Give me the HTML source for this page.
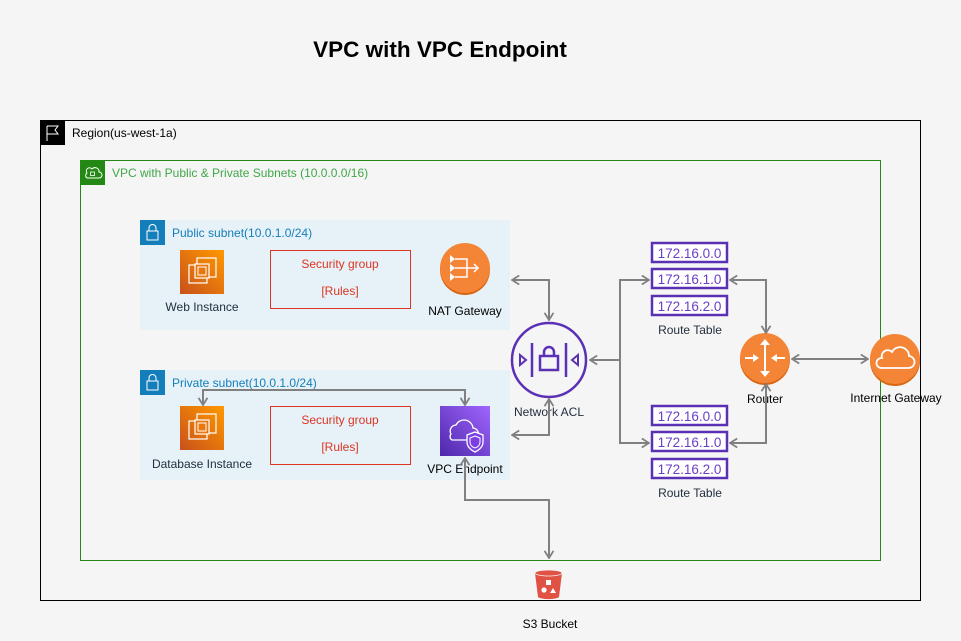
<!DOCTYPE html>
<html><head><meta charset="utf-8"><style>
html,body{margin:0;padding:0;background:#f5f5f5;}
svg{display:block;font-family:"Liberation Sans",Arial,sans-serif;}
</style></head><body>
<svg width="961" height="641" viewBox="0 0 961 641" xmlns="http://www.w3.org/2000/svg">
<defs>
<linearGradient id="org" x1="0" y1="1" x2="1" y2="0"><stop offset="0" stop-color="#c8511b"/><stop offset="1" stop-color="#ff9900"/></linearGradient>
<linearGradient id="pur" x1="0" y1="1" x2="1" y2="0"><stop offset="0" stop-color="#4d27aa"/><stop offset="1" stop-color="#a166ff"/></linearGradient>
<marker id="a" viewBox="0 0 10 12" refX="9" refY="6" markerWidth="9" markerHeight="11" orient="auto-start-reverse" markerUnits="userSpaceOnUse"><path d="M1,1 L9,6 L1,11" fill="none" stroke="#808080" stroke-width="2"/></marker>
</defs>
<rect width="961" height="641" fill="#f5f5f5"/>
<text x="440" y="57" font-size="22.5" font-weight="bold" text-anchor="middle" fill="#000">VPC with VPC Endpoint</text>

<!-- Region -->
<rect x="40.5" y="120.5" width="880" height="480" fill="none" stroke="#000" stroke-width="1"/>
<rect x="40" y="120" width="25" height="25" fill="#000"/>
<path d="M47 141 V126 M47 126 H58 L55 130 L58 134 H47" fill="none" stroke="#fff" stroke-width="1"/>
<text x="72" y="137" font-size="12" fill="#000">Region(us-west-1a)</text>

<!-- VPC -->
<rect x="80.5" y="160.5" width="800" height="400" fill="none" stroke="#248814" stroke-width="1"/>
<rect x="80" y="160" width="25" height="25" fill="#248814"/>
<path d="M87 178 h12 a3 3 0 0 0 0-6 a4 4 0 0 0-7-3 a3 3 0 0 0-5 4 a3 3 0 0 0 0 5z" fill="none" stroke="#fff" stroke-width="1"/>
<rect x="90.5" y="172" width="4" height="3.5" fill="none" stroke="#fff" stroke-width="0.8"/>
<text x="112" y="177" font-size="12" fill="#3fa848">VPC with Public &amp; Private Subnets (10.0.0.0/16)</text>

<!-- Public subnet -->
<rect x="140" y="220" width="370" height="110" fill="#e6f2f8"/>
<rect x="140" y="220" width="25" height="25" fill="#147eba"/>
<rect x="147" y="231" width="11" height="9" fill="none" stroke="#fff" stroke-width="1"/>
<path d="M149 231 v-3 a3.5 3.5 0 0 1 7 0 v3" fill="none" stroke="#fff" stroke-width="1"/>
<text x="172" y="237" font-size="12" fill="#147eba">Public subnet(10.0.1.0/24)</text>

<!-- Private subnet -->
<rect x="140" y="370" width="370" height="110" fill="#e6f2f8"/>
<rect x="140" y="370" width="25" height="25" fill="#147eba"/>
<rect x="147" y="381" width="11" height="9" fill="none" stroke="#fff" stroke-width="1"/>
<path d="M149 381 v-3 a3.5 3.5 0 0 1 7 0 v3" fill="none" stroke="#fff" stroke-width="1"/>
<text x="172" y="387" font-size="12" fill="#147eba">Private subnet(10.0.1.0/24)</text>

<!-- EC2 web -->
<g transform="translate(180,250)">
<rect width="44" height="44" fill="url(#org)"/>
<rect x="9" y="15" width="18" height="18" fill="none" stroke="#fff" stroke-width="1.2"/>
<rect x="17" y="8" width="19" height="19" fill="none" stroke="#fff" stroke-width="1.2"/>
<rect x="15" y="14" width="14" height="14" fill="#e8770f" stroke="#fff" stroke-width="1.2"/>
<rect x="18" y="17" width="8" height="8" fill="none" stroke="#fff" stroke-width="1"/>
</g>
<text x="202" y="311" font-size="12" fill="#232f3e" text-anchor="middle">Web Instance</text>
<!-- EC2 db -->
<g transform="translate(180,406)">
<rect width="44" height="44" fill="url(#org)"/>
<rect x="9" y="15" width="18" height="18" fill="none" stroke="#fff" stroke-width="1.2"/>
<rect x="17" y="8" width="19" height="19" fill="none" stroke="#fff" stroke-width="1.2"/>
<rect x="15" y="14" width="14" height="14" fill="#e8770f" stroke="#fff" stroke-width="1.2"/>
<rect x="18" y="17" width="8" height="8" fill="none" stroke="#fff" stroke-width="1"/>
</g>
<text x="202" y="468" font-size="12" fill="#232f3e" text-anchor="middle">Database Instance</text>

<!-- Security groups -->
<rect x="270.5" y="250.5" width="140" height="58" fill="none" stroke="#dd3522"/>
<text x="340" y="268" font-size="12" fill="#dd3522" text-anchor="middle">Security group</text>
<text x="340" y="295" font-size="12" fill="#dd3522" text-anchor="middle">[Rules]</text>
<rect x="270.5" y="406.5" width="140" height="58" fill="none" stroke="#dd3522"/>
<text x="340" y="424" font-size="12" fill="#dd3522" text-anchor="middle">Security group</text>
<text x="340" y="451" font-size="12" fill="#dd3522" text-anchor="middle">[Rules]</text>

<!-- NAT -->
<circle cx="465" cy="270" r="25" fill="#d86613"/>
<circle cx="465" cy="268" r="25" fill="#f58536"/>
<g stroke="#fff" stroke-width="1.5" fill="none">
<path d="M455 259 h12 v18 h-12 M455 268 h22"/>
<path d="M474 264 l4 4 l-4 4"/>
</g>
<path d="M450 255 l5 4 l-5 4z M450 264 l5 4 l-5 4z M450 273 l5 4 l-5 4z" fill="#fff"/>
<text x="465" y="315" font-size="12" fill="#000" text-anchor="middle">NAT Gateway</text>

<!-- VPC endpoint -->
<rect x="440" y="406" width="50" height="50" fill="url(#pur)"/>
<path d="M452 440 h20 a6 6 0 0 0 1-12 a9 9 0 0 0-17-3 a6 6 0 0 0-5 9 a4 4 0 0 0 1 6z" fill="none" stroke="#fff" stroke-width="1.3"/>
<path d="M475 432 l8 3 v7 c0 5-4 8-8 10 c-4-2-8-5-8-10 v-7z" fill="#7b3fe4" stroke="#fff" stroke-width="1.3"/>
<path d="M475 436 l5 2 v4 c0 3-2 5-5 6 c-3-1-5-3-5-6 v-4z" fill="none" stroke="#fff" stroke-width="1"/>
<text x="465" y="473" font-size="12" fill="#000" text-anchor="middle">VPC Endpoint</text>

<!-- Network ACL -->
<circle cx="549" cy="360" r="37" fill="none" stroke="#5a30b5" stroke-width="2.5"/>
<g stroke="#5a30b5" stroke-width="2.5" fill="none">
<path d="M532 343 v34 M566 343 v34"/>
<rect x="540" y="356" width="18" height="14"/>
<path d="M544 356 v-4 a5 5 0 0 1 10 0 v4"/>
<path d="M520 355 l6 5 l-6 5z M578 355 l-6 5 l6 5z" stroke-width="2"/>
</g>
<text x="549" y="416" font-size="12" fill="#232f3e" text-anchor="middle">Network ACL</text>

<!-- Route tables -->
<g font-size="13.5" fill="#6a3fc8" text-anchor="middle">
<rect x="652" y="243" width="75" height="19" fill="#fff" stroke="#5a30b5" stroke-width="2.5"/><text x="689.5" y="258">172.16.0.0</text>
<rect x="652" y="269" width="75" height="19" fill="#fff" stroke="#5a30b5" stroke-width="2.5"/><text x="689.5" y="284">172.16.1.0</text>
<rect x="652" y="296" width="75" height="19" fill="#fff" stroke="#5a30b5" stroke-width="2.5"/><text x="689.5" y="311">172.16.2.0</text>
<rect x="652" y="406" width="75" height="19" fill="#fff" stroke="#5a30b5" stroke-width="2.5"/><text x="689.5" y="421">172.16.0.0</text>
<rect x="652" y="432" width="75" height="19" fill="#fff" stroke="#5a30b5" stroke-width="2.5"/><text x="689.5" y="447">172.16.1.0</text>
<rect x="652" y="459" width="75" height="19" fill="#fff" stroke="#5a30b5" stroke-width="2.5"/><text x="689.5" y="474">172.16.2.0</text>
</g>
<text x="690" y="334" font-size="12" fill="#232f3e" text-anchor="middle">Route Table</text>
<text x="690" y="497" font-size="12" fill="#232f3e" text-anchor="middle">Route Table</text>

<!-- Router -->
<circle cx="765" cy="360" r="25" fill="#d86613"/>
<circle cx="765" cy="358" r="25" fill="#f58536"/>
<g stroke="#fff" stroke-width="2" fill="#fff">
<path d="M765 343 v30" fill="none"/>
<path d="M760 345 l5-6 l5 6z M760 371 l5 6 l5-6z" stroke="none"/>
<path d="M745 358 h10 M775 358 h10" fill="none"/>
<path d="M753 354 l6 4 l-6 4z M777 354 l-6 4 l6 4z" stroke="none"/>
</g>
<text x="765" y="403" font-size="12" fill="#000" text-anchor="middle">Router</text>

<!-- Internet Gateway -->
<circle cx="895" cy="361" r="25" fill="#d86613"/>
<circle cx="895" cy="359" r="25" fill="#f58536"/>
<path d="M881 368 h27 a6 6 0 0 0 1-12 a9 9 0 0 0-17-4 a6 6 0 0 0-10 6 a5 5 0 0 0-1 10z" fill="none" stroke="#fff" stroke-width="1.8"/>
<text x="896" y="402" font-size="12" fill="#000" text-anchor="middle">Internet Gateway</text>

<!-- S3 -->
<path d="M535 573 h27 l-3 24 a11 3 0 0 1-21 0z" fill="#e05243"/>
<ellipse cx="548.5" cy="573" rx="13.5" ry="3" fill="#e05243" stroke="#f5f5f5" stroke-width="0.8"/>
<rect x="546" y="580" width="5" height="5" fill="#fff"/>
<circle cx="544" cy="590" r="2.6" fill="#fff"/>
<path d="M550 593 l3-5 l3 5z" fill="#fff"/>
<text x="550" y="628" font-size="12" fill="#000" text-anchor="middle">S3 Bucket</text>

<!-- Connectors -->
<g fill="none" stroke="#808080" stroke-width="2">
<path d="M512 280 H549 V320" marker-start="url(#a)" marker-end="url(#a)"/>
<path d="M549 399 V435 H512" marker-start="url(#a)" marker-end="url(#a)"/>
<path d="M590 360 H620" marker-start="url(#a)"/>
<path d="M620 360 V280 H649" marker-end="url(#a)"/>
<path d="M620 360 V443 H649" marker-end="url(#a)"/>
<path d="M730 280 H766 V333" marker-start="url(#a)" marker-end="url(#a)"/>
<path d="M730 443 H766 V384" marker-start="url(#a)" marker-end="url(#a)"/>
<path d="M792 359 H868" marker-start="url(#a)" marker-end="url(#a)"/>
<path d="M203 405 V390 H465 V405" marker-start="url(#a)" marker-end="url(#a)"/>
<path d="M465 458 V500 H549 V558" marker-start="url(#a)" marker-end="url(#a)"/>
</g>
</svg>
</body></html>
